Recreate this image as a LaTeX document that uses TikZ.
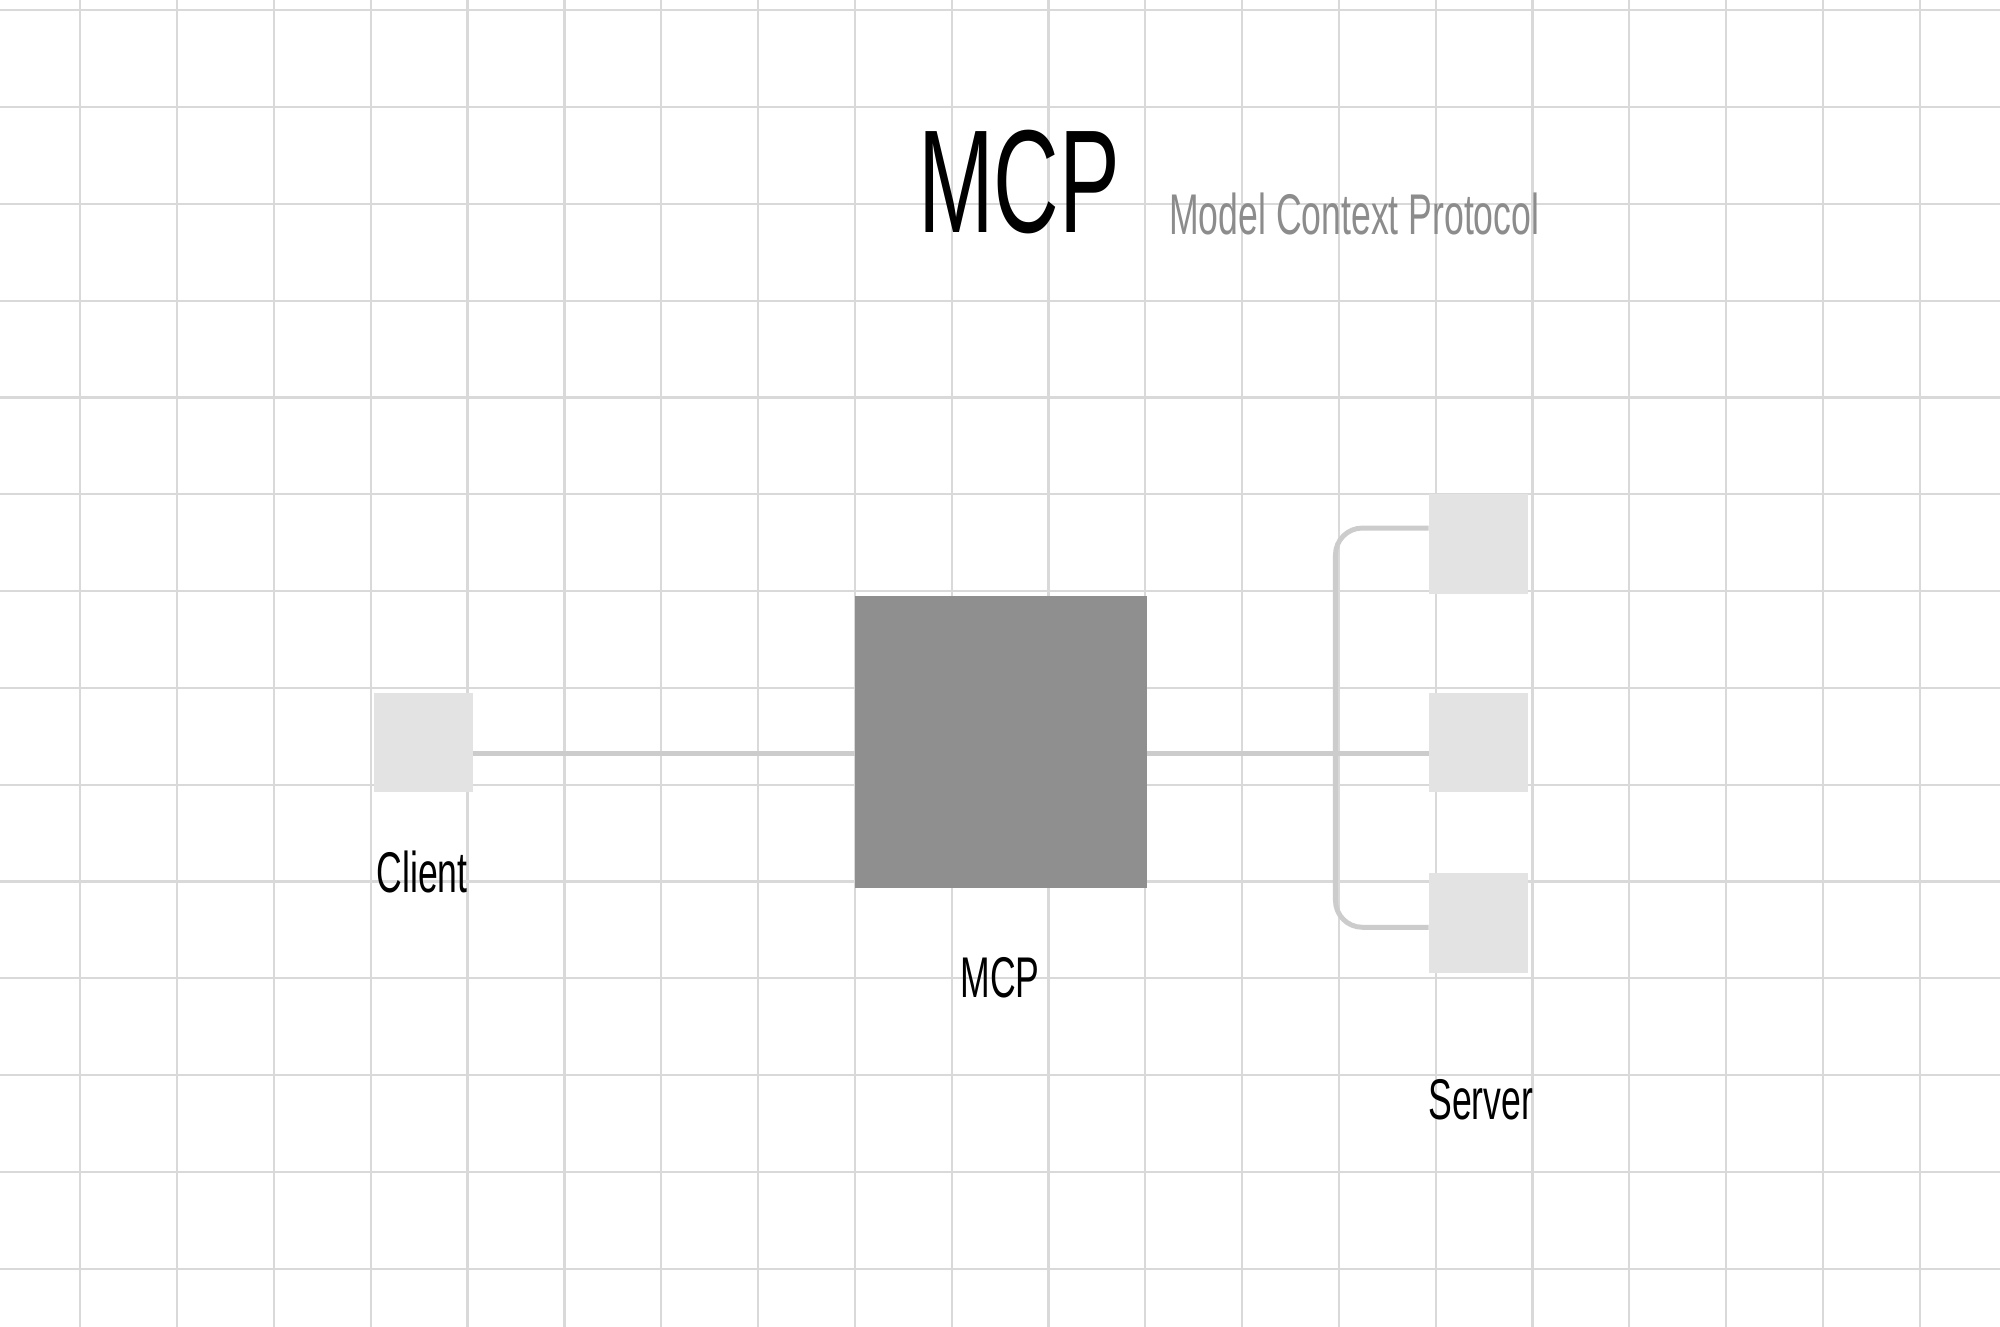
\documentclass[tikz,border=0pt]{standalone}
\usepackage{fontspec}
\setmainfont{Liberation Sans}[FakeStretch=0.62]
\begin{document}
\begin{tikzpicture}[x=0.01cm,y=-0.01cm,
  grid/.style={draw=black!15,line width=0.5pt},
  small/.style={fill=black!11,draw=none,minimum width=0.78cm,minimum height=0.78cm,inner sep=0},
  conn/.style={draw=black!20,line width=1.1pt},
  lbl/.style={font=\fontsize{12.8}{14}\selectfont,text=black}]
\useasboundingbox (0,0) rectangle (1568,1040);
\fill[white] (0,0) rectangle (1568,1040);
\foreach \i in {0,...,19} \draw[grid] ({63+75.9*\i},0) -- ({63+75.9*\i},1040);
\foreach \j in {0,...,13} \draw[grid] (0,{8+75.9*\j}) -- (1568,{8+75.9*\j});
\node[anchor=base,font=\fontsize{32.7}{36}\selectfont] (title) at (799,182) {MCP};
\node[anchor=base west,inner sep=0,font=\fontsize{12.8}{14}\selectfont,text=black!45] (sub) at (916,184) {Model Context Protocol};
\node[small] (client) at (332,582) {};
\node[fill=black!44,minimum width=2.29cm,minimum height=2.29cm,inner sep=0] (mcp) at (784.5,581.5) {};
\node[small] (s1) at (1159,426.5) {};
\node[small] (s2) at (1159,582) {};
\node[small] (s3) at (1159,723.5) {};
\coordinate (cl) at (371,591);
\coordinate (ml) at (670,591);
\coordinate (mr) at (899,591);
\coordinate (s2l) at (1120,591);
\draw[conn] (cl) -- (ml);
\draw[conn] (mr) -- (s2l);
\coordinate (s1l) at (1120,414);
\coordinate (s3l) at (1120,727);
\draw[conn,rounded corners=6pt] (s1l) -- (1047,414) -- (1047,727) -- (s3l);
\node[lbl,anchor=base] (lc) at (331,700) {Client};
\node[lbl,anchor=base] (lm) at (784,782) {MCP};
\node[lbl,anchor=base] (ls) at (1161,878) {Server};
\end{tikzpicture}
\end{document}
